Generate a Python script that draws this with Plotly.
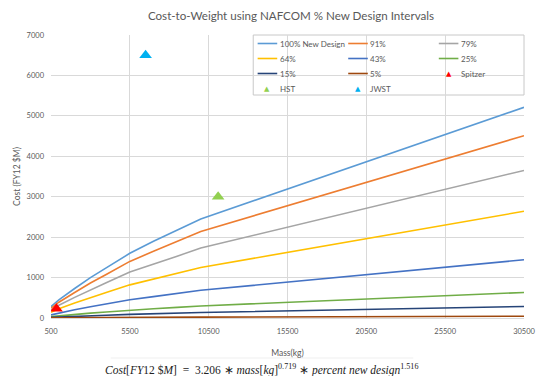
import plotly.graph_objects as go

# Mass grid (kg) at which each design-interval curve is drawn
mass_kg = [500, 1000, 2000, 3000, 4000, 5500, 7000, 8500, 10000, 30500]

# Cost (FY12 $M) per percent-new-design interval
cost_100 = [280, 450, 730, 1000, 1240, 1600, 1900, 2180, 2450, 5210]
cost_91 = [243, 390, 630, 865, 1075, 1400, 1650, 1890, 2140, 4510]
cost_79 = [196, 315, 510, 700, 870, 1140, 1330, 1530, 1730, 3650]
cost_64 = [142, 228, 370, 505, 630, 820, 965, 1110, 1250, 2640]
cost_43 = [78, 125, 202, 278, 345, 450, 528, 605, 685, 1440]
cost_25 = [34, 55, 88, 121, 150, 196, 230, 264, 298, 632]
cost_15 = [15, 25, 40, 55, 68, 89, 105, 120, 135, 286]
cost_5 = [3, 4, 7, 9, 11, 15, 17, 20, 22, 45]

series_names = ["100% New Design", "91%", "79%", "64%", "43%", "25%", "15%", "5%"]
series_costs = [cost_100, cost_91, cost_79, cost_64, cost_43, cost_25, cost_15, cost_5]
series_colors = ["#5B9BD5", "#ED7D31", "#A5A5A5", "#FFC000",
                 "#4472C4", "#70AD47", "#264478", "#9E480E"]

# Actual missions
mission_names = ["Spitzer", "HST", "JWST"]
mission_mass = [850, 11100, 6500]
mission_cost = [230, 3000, 6500]
mission_colors = ["#FF0000", "#92D050", "#00B0F0"]

x_ticks = [500, 5500, 10500, 15500, 20500, 25500, 30500]
y_ticks = [0, 1000, 2000, 3000, 4000, 5000, 6000, 7000]

W, H = 548, 376
ML, MR, MT, MB = 51, 14, 35, 58
PW, PH = W - ML - MR, H - MT - MB

FONT = "Lato"
GREY = "#595959"

fig = go.Figure()

for name, ys, col in zip(series_names, series_costs, series_colors):
    fig.add_trace(go.Scatter(x=mass_kg, y=ys, mode="lines", name=name,
                             line=dict(color=col, width=1.6), showlegend=False))

for name, m, c, col in zip(mission_names, mission_mass, mission_cost, mission_colors):
    fig.add_trace(go.Scatter(x=[m], y=[c], mode="markers", name=name,
                             marker=dict(symbol="triangle-up", size=11, color=col),
                             showlegend=False))


def px_x(p):
    return (p - ML) / PW


def px_y(p):
    return (MT + PH - p) / PH


# Legend panel (3 columns x 4 rows)
shapes = [dict(type="rect", xref="paper", yref="paper", layer="between",
               x0=px_x(257.5), x1=px_x(534), y0=px_y(95), y1=px_y(35),
               line=dict(color="#C8C8C8", width=1), fillcolor="white")]
annotations = []
col_x = [262, 354.5, 447]
row_y = [43.5, 58.5, 73.5, 88.5]
entries = [(n, c, "line") for n, c in zip(series_names, series_colors)]
entries += [(n, c, "tri") for n, c in zip(mission_names, mission_colors)]
for i, (name, col, kind) in enumerate(entries):
    cx = col_x[i % 3]
    ry = row_y[i // 3]
    if kind == "line":
        shapes.append(dict(type="line", xref="paper", yref="paper",
                           x0=px_x(cx), x1=px_x(cx + 20), y0=px_y(ry), y1=px_y(ry),
                           line=dict(color=col, width=1.6)))
    else:
        annotations.append(dict(xref="paper", yref="paper", x=px_x(cx + 10), y=px_y(ry),
                                text="▲", showarrow=False, xanchor="center", yanchor="middle",
                                font=dict(size=7, color=col, family="DejaVu Sans")))
    annotations.append(dict(xref="paper", yref="paper", x=px_x(cx + 20.5), y=px_y(ry),
                            text=name, showarrow=False, xanchor="left", yanchor="middle",
                            font=dict(size=8, color=GREY, family=FONT)))

# Regression equation below the chart
shapes.append(dict(type="line", xref="paper", yref="paper",
                   x0=px_x(112), x1=px_x(421), y0=px_y(358), y1=px_y(358),
                   line=dict(color="#EFEFEF", width=1)))
annotations.append(dict(
    xref="paper", yref="paper", x=px_x(266), y=px_y(369),
    xanchor="center", yanchor="middle", showarrow=False,
    text=("<i>Cost</i>[<i>FY</i>12 $<i>M</i>]  =  3.206 ∗ <i>mass</i>[<i>kg</i>]"
          "<sup>0.719</sup> ∗ <i>percent new design</i><sup>1.516</sup>"),
    font=dict(size=11.5, color="#222222", family="Liberation Serif")))

fig.update_layout(
    width=W, height=H,
    margin=dict(l=ML, r=MR, t=MT, b=MB),
    paper_bgcolor="white", plot_bgcolor="white",
    title=dict(text="Cost-to-Weight using NAFCOM % New Design Intervals",
               x=291 / W, xref="container", xanchor="center",
               y=1 - 16 / H, yref="container", yanchor="middle",
               font=dict(family=FONT, size=11.6, color=GREY)),
    shapes=shapes, annotations=annotations,
    xaxis=dict(range=[500, 30500], tickvals=x_ticks, ticktext=[str(v) for v in x_ticks],
               showgrid=True, gridcolor="#D9D9D9", gridwidth=1, zeroline=False,
               showline=True, linecolor="#D9D9D9", mirror=False,
               tickfont=dict(family=FONT, size=7.5, color=GREY), ticks="",
               ticklabelstandoff=6,
               title=dict(text="Mass(kg)", font=dict(family=FONT, size=8.5, color=GREY),
                          standoff=15)),
    yaxis=dict(range=[0, 7000], tickvals=y_ticks, ticktext=[str(v) for v in y_ticks],
               showgrid=True, gridcolor="#D9D9D9", gridwidth=1, zeroline=False,
               tickfont=dict(family=FONT, size=7.5, color=GREY), ticks="",
               ticklabelstandoff=6,
               title=dict(text="Cost (FY12 $M)", font=dict(family=FONT, size=8.5, color=GREY),
                          standoff=4)),
)

fig.write_html("out.html")
